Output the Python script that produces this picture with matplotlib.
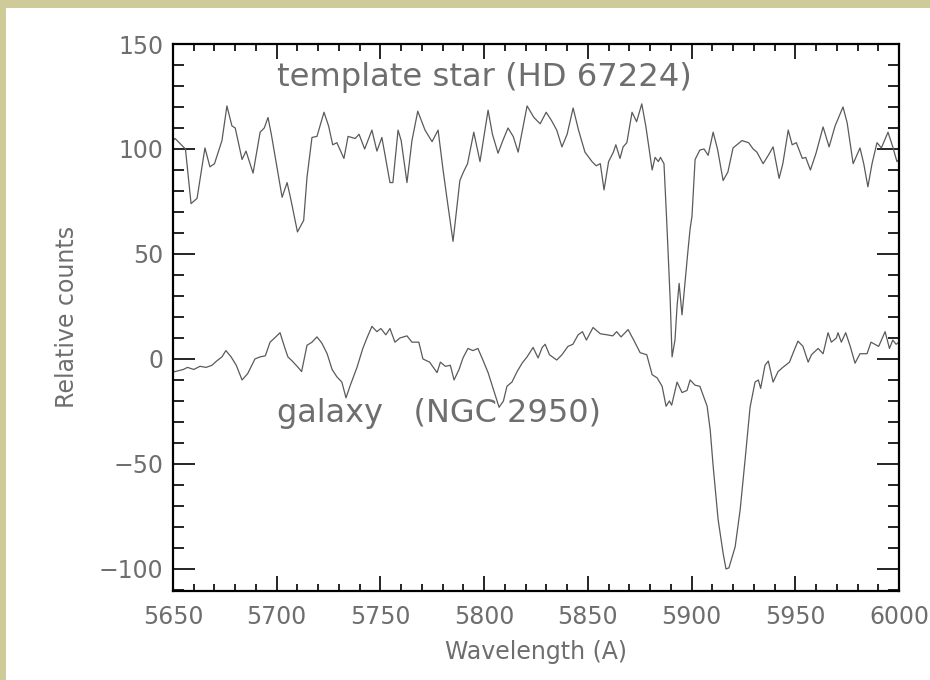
import matplotlib
matplotlib.use("Agg")
import matplotlib.pyplot as plt
from matplotlib.patches import Rectangle
from matplotlib.ticker import MultipleLocator

# ---- data ----
star_wl = [5650, 5651, 5654, 5656, 5658.7, 5661.6, 5665.4, 5667.8, 5670, 5673.6, 5676, 5678.4, 5680,
           5683.3, 5685.2, 5688.6, 5692, 5694, 5695.8, 5697.4, 5702.6, 5705, 5706.6, 5710, 5713,
           5714.6, 5717, 5719.4, 5722.8, 5725, 5727, 5729, 5732.4, 5734.4, 5737.8, 5739.7, 5742.4,
           5745.9, 5748.3, 5750.7, 5754.6, 5756, 5758.5, 5760, 5762.8, 5765.2, 5768, 5771.5, 5774.9,
           5777.8, 5780.2, 5782, 5785, 5788.3, 5790, 5792, 5795, 5798, 5801.9, 5804, 5806.7, 5809,
           5811.5, 5814, 5816.4, 5820.7, 5824, 5827, 5829.9, 5832.5, 5835, 5837.5, 5840, 5842.9,
           5845.5, 5848.6, 5852, 5854, 5856, 5857.8, 5860, 5862.3, 5863.5, 5865.5, 5867, 5868.8,
           5871.3, 5873.5, 5876, 5878, 5881, 5882.4, 5884, 5885, 5886.7, 5888, 5889.7, 5890.6,
           5892, 5893, 5894, 5895.4, 5896.8, 5898.3, 5899.3, 5900.2, 5901.7, 5904, 5906, 5908,
           5910.4, 5912.5, 5915.2, 5917.5, 5920, 5924.3, 5927.5, 5929.7, 5931.5, 5934.5, 5937,
           5939.3, 5942.2, 5944, 5946.6, 5948.5, 5950.5, 5953.4, 5955, 5957.3, 5960, 5963.4, 5966.3,
           5969.2, 5973, 5975, 5977.9, 5981.2, 5983, 5985, 5987, 5989.4, 5991.5, 5994.7, 5997,
           5999, 6000]
star_flux = [104, 105, 102, 100, 74, 76.5, 100.5, 91.5, 93, 104, 120.5, 111, 110,
             95, 99, 88.5, 108, 110, 115, 107, 77, 84, 77, 60.5, 66,
             86.5, 105.5, 106, 117.5, 111, 102, 103, 95.5, 106, 105, 107, 100,
             109, 99, 105.5, 84, 84, 109, 104, 84, 104, 118, 109, 103.5,
             109, 90, 77, 56, 85, 89, 93, 108, 94, 118.5, 107, 98, 104,
             110, 106, 98.5, 120.5, 115, 112, 117.5, 113.5, 109, 101, 107, 119.5,
             109, 98.5, 94, 92, 93, 80.5, 94, 98.5, 102, 95.5, 101, 103,
             117.5, 113, 121.5, 110.5, 90, 96, 94, 96, 93, 66, 28, 1,
             9, 25, 36, 21, 36, 52, 62, 68, 95, 99.5, 100, 97,
             108, 100, 85, 89, 100.5, 104, 103, 100, 98.5, 93, 97,
             101, 86, 93, 109, 102, 103, 95.5, 96, 90, 98, 110.5, 101,
             111, 120, 112.5, 93, 100.5, 93, 82, 93, 103, 100.5, 108, 101,
             94, 95]

gal_wl = [5650, 5651, 5655, 5657, 5660, 5663, 5666, 5668.8, 5671, 5673.6, 5675.5, 5678, 5680.5,
          5683.3, 5686, 5689.5, 5692, 5694.5, 5696.8, 5699, 5701.6, 5704, 5705.4, 5707.5, 5710.3,
          5712, 5714.6, 5717, 5719.4, 5721.8, 5724.3, 5726.7, 5729, 5731.4, 5733.4, 5735.3,
          5738.7, 5741.5, 5743.5, 5745.9, 5748.3, 5750.2, 5752.6, 5754.6, 5757, 5759.4, 5762.8,
          5765.2, 5768.5, 5770.5, 5773.7, 5777.3, 5778.9, 5781.3, 5783.7, 5785.5, 5787.9, 5789.8,
          5792.2, 5794.6, 5797, 5799.4, 5801.9, 5804.3, 5807.2, 5809.3, 5811, 5813.4, 5815.9,
          5818.3, 5820.7, 5823.6, 5826, 5828, 5829.4, 5831.5, 5835, 5837.5, 5840.4, 5842.8,
          5845.3, 5847.4, 5849.3, 5852.5, 5856, 5859.3, 5862, 5863.9, 5866, 5869.4, 5872.1,
          5875.2, 5878.4, 5881, 5883.4, 5885.8, 5887.7, 5889.3, 5890.4, 5893, 5895.4, 5897.8,
          5899.3, 5901.7, 5904, 5907.5, 5909, 5910.4, 5912.8, 5915.2, 5916.6, 5918, 5921,
          5923.4, 5925.8, 5928.2, 5930.6, 5932.2, 5933.3, 5935.4, 5937, 5939.3, 5941.7, 5944,
          5947.2, 5949.4, 5951.3, 5953.7, 5956.2, 5957.8, 5961, 5963.4, 5965.8, 5967.4, 5969.8,
          5970.6, 5972.2, 5974.3, 5976.5, 5978.8, 5981.2, 5984.6, 5986.5, 5990.2, 5993.3, 5995.4,
          5997, 5998.6, 6000]
gal_flux = [-6, -6, -5, -4, -5, -3.5, -4, -3, -1, 1, 4, 1, -3,
            -10, -7, 0, 1, 1.5, 8, 10, 12.5, 5, 1, -1, -4,
            -6, 6.5, 8, 10.5, 7.5, 2.5, -5, -8.5, -11, -18.5, -13,
            -4, 5, 10, 15.5, 13, 14.5, 11.5, 14.5, 8, 10, 11,
            8, 8, 0, -1.5, -6.5, -1.5, -3.5, -3, -10, -5, 0.5,
            5, 4, 5, -0.5, -6.5, -14, -23, -20, -13, -11, -6,
            -2, 1, 5.5, 0.5, 5.5, 7, 2, -0.5, 2, 6, 7,
            11.5, 13, 9, 15, 12, 11.5, 11, 13, 10.5, 14, 9,
            3, 2, -7.5, -9, -13, -22.5, -20, -22, -11, -16, -15,
            -10, -12.5, -13, -22.5, -34, -51, -76.5, -92.5, -100, -99.5, -89.5,
            -72, -48, -23, -11, -10, -14, -3, -1, -11, -6, -4,
            -1.5, 4, 8.5, 6, -1.5, 2, 5, 2.5, 12.5, 8, 10,
            12.5, 8, 12.5, 6, -2, 2.5, 2.5, 8, 6, 13, 5,
            9, 7, 8]

star_label = "template star (HD 67224)"
gal_label = "galaxy   (NGC 2950)"
x_label = "Wavelength (A)"
y_label = "Relative counts"

W, H = 930, 680
fig = plt.figure(figsize=(W / 100, H / 100), dpi=100)
fig.patch.set_facecolor("white")
# khaki frame on left and top
fig.patches.append(Rectangle((0, 0), 6 / W, 1, transform=fig.transFigure,
                             facecolor="#cfcb98", edgecolor="none", zorder=-10))
fig.patches.append(Rectangle((0, 1 - 8 / H), 1, 8 / H, transform=fig.transFigure,
                             facecolor="#cfcb98", edgecolor="none", zorder=-10))

L, R, T, B = 173, 899, 44, 591
ax = fig.add_axes([L / W, 1 - B / H, (R - L) / W, (B - T) / H])

line_col = "#5a5a5a"
ax.plot(star_wl, star_flux, color=line_col, lw=0.9)
ax.plot(gal_wl, gal_flux, color=line_col, lw=0.9)

ax.set_xlim(5650, 6000)
ax.set_ylim(-110.5, 150)

ax.xaxis.set_major_locator(MultipleLocator(50))
ax.xaxis.set_minor_locator(MultipleLocator(10))
ax.yaxis.set_major_locator(MultipleLocator(50))
ax.yaxis.set_minor_locator(MultipleLocator(10))

txt_col = "#6e6e6e"
ax.tick_params(axis="both", which="both", direction="in", top=True, right=True,
               colors="black", labelcolor=txt_col, width=1.2)
ax.tick_params(axis="x", which="major", length=11, pad=10, labelsize=17)
ax.tick_params(axis="x", which="minor", length=5)
ax.tick_params(axis="y", which="major", length=16, pad=7, labelsize=17)
ax.tick_params(axis="y", which="minor", length=8)
for s in ax.spines.values():
    s.set_linewidth(1.6)
    s.set_color("black")

ax.text(5700, 130, star_label, fontsize=23.2, color=txt_col, va="baseline", ha="left")
ax.text(5700, -30, gal_label, fontsize=23, color=txt_col, va="baseline", ha="left")

fig.text(67 / W, 1 - 317 / H, y_label, rotation=90, ha="center", va="center",
         fontsize=17, color=txt_col)
fig.text((L + R) / 2 / W, 1 - 652 / H, x_label, ha="center", va="center",
         fontsize=17, color=txt_col)

fig.savefig("out.png", dpi=100)
